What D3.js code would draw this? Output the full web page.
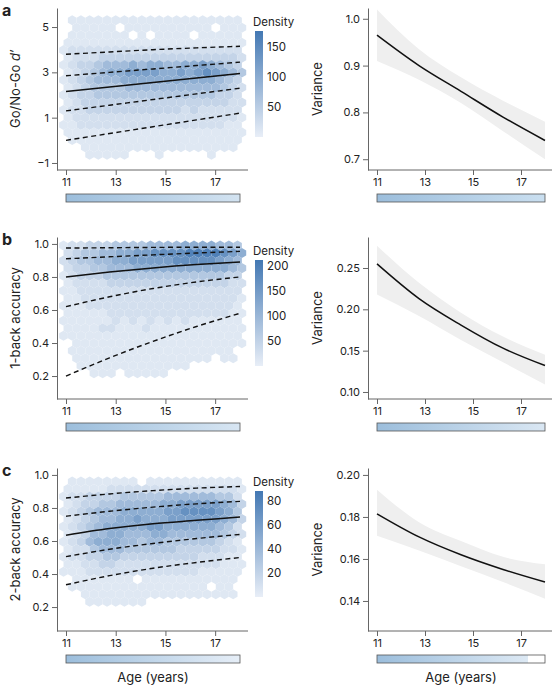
<!DOCTYPE html>
<html>
<head>
<meta charset="utf-8">
<script src="https://cdn.jsdelivr.net/npm/d3@7"></script>
<style>
  body { margin: 0; background: #fff; }
  text { font-family: Inter, "Noto Sans", sans-serif; fill: #222; }
</style>
</head>
<body>
<div class="canvas"></div>
<script>
// ages at which the fitted curves are read
const ages = [11, 12.75, 14.5, 16.25, 18];
const ageTicks = [11, 13, 15, 17];

// hexbin density levels (0 = empty, 9 = max), rows top to bottom
const hexA = [
  "011111111111111111111","011111011111111110111","011111110101111011111",
  "111111111111111111111","122222222222222222222","122233333333333333332",
  "123345556566556676543","123456677776676787654","123455566666666666543",
  "123444455555555555432","123344444444444444332","123333333333333333322",
  "122333333333332322222","122222222222222222221","112222222222222222211",
  "111111111111111111111","011111111111111111111","001111111111111111110",
  "000111110001000001000"];
const hexB = [
  "122333444455556666554","234455667788889999876","234455667777788888765",
  "233445556666666666654","123334444444444444433","122223333333333333322",
  "112222222222222222222","112222222222222222221","111222222222222222221",
  "111112222222222222211","111111212121212111111","111122111211111111111",
  "111111111111111111111","011111111111111111111","011111111111111111110",
  "011111111111111110110","001111111111111000000","000111011111000000000"];
const hexC = [
  "011111111011111111111","111112222222222222221","122333344444555555442",
  "123344555556677777653","123455566666778888764","123455667666777777653",
  "123456666677666666542","123556655566555555432","123566655455444444321",
  "122455544444433333221","122334433333333322211","112233222222222222111",
  "111222222222222211111","011111110111111111110","011111111111111110110",
  "001111111111111111110","000111111100000000000"];

// quantile curves (dashed) and median (solid)
const quantA = [[3.8,3.9,4.0,4.08,4.15],[2.85,3.0,3.15,3.3,3.45],[1.3,1.55,1.8,2.05,2.3],[0.0,0.3,0.6,0.9,1.2]];
const medA = [2.15,2.35,2.55,2.75,2.95];
const quantB = [[0.975,0.977,0.979,0.98,0.98],[0.91,0.922,0.934,0.945,0.955],[0.62,0.68,0.73,0.77,0.80],[0.20,0.31,0.41,0.50,0.58]];
const medB = [0.80,0.83,0.855,0.875,0.89];
const quantC = [[0.86,0.885,0.905,0.92,0.93],[0.75,0.78,0.805,0.825,0.84],[0.505,0.55,0.585,0.615,0.64],[0.335,0.39,0.435,0.47,0.50]];
const medC = [0.635,0.675,0.705,0.725,0.745];

// variance fits with CI
const varA = [0.965,0.90,0.845,0.79,0.74];
const varLoA = [0.91,0.87,0.82,0.76,0.70];
const varHiA = [1.02,0.935,0.875,0.825,0.78];
const varB = [0.255,0.213,0.181,0.153,0.132];
const varLoB = [0.218,0.192,0.163,0.136,0.109];
const varHiB = [0.277,0.232,0.196,0.167,0.145];
const varC = [0.1815,0.1705,0.162,0.155,0.149];
const varLoC = [0.171,0.164,0.1565,0.149,0.141];
const varHiC = [0.193,0.1775,0.1685,0.161,0.1575];

const panels = [
  {letter: 'a', top: 8, bottom: 170, label: ['Go/No-Go ', "d′"], yDom: [-1.31, 5.84], yTicks: [-1, 1, 3, 5], fmt: d => d < 0 ? '−1' : d,
   hex: hexA, hexY0: 5.3, hexDy: 0.33, dMax: 177, dTicks: [50, 100, 150], quant: quantA, med: medA,
   vDom: [0.677, 1.023], vTicks: [0.7, 0.8, 0.9, 1.0], vFmt: d3.format('.1f'), v: varA, vLo: varLoA, vHi: varHiA,
   barL: ['#9cbedc', '#d3e3f1', 1], barR: ['#9cbedc', '#cadff0', 1]},
  {letter: 'b', top: 237, bottom: 399, label: ['1-back accuracy'], yDom: [0.061, 1.042], yTicks: [0.2, 0.4, 0.6, 0.8, 1.0], fmt: d3.format('.1f'),
   hex: hexB, hexY0: 0.99, hexDy: 0.0455, dMax: 212, dTicks: [50, 100, 150, 200], quant: quantB, med: medB,
   vDom: [0.0915, 0.2875], vTicks: [0.10, 0.15, 0.20, 0.25], vFmt: d3.format('.2f'), v: varB, vLo: varLoB, vHi: varHiB,
   barL: ['#9cbedc', '#d8e6f3', 1], barR: ['#9cbedc', '#dae7f3', 1]},
  {letter: 'c', top: 468, bottom: 631, label: ['2-back accuracy'], yDom: [0.055, 1.042], yTicks: [0.2, 0.4, 0.6, 0.8, 1.0], fmt: d3.format('.1f'),
   hex: hexC, hexY0: 0.96, hexDy: 0.0455, dMax: 88, dTicks: [20, 40, 60, 80], quant: quantC, med: medC,
   vDom: [0.1257, 0.2033], vTicks: [0.14, 0.16, 0.18, 0.20], vFmt: d3.format('.2f'), v: varC, vLo: varLoC, vHi: varHiC,
   barL: ['#9cbedc', '#e6eef7', 1], barR: ['#9cbedc', '#dde9f4', 0.9]}
];

const svg = d3.select('.canvas').append('svg').attr('width', 556).attr('height', 685);
const defs = svg.append('defs');

function styleAxis(g) {
  g.selectAll('path, line').attr('stroke', '#666').attr('stroke-width', 1);
  g.selectAll('text').attr('font-size', 11).attr('fill', '#222');
}

function ageBar(x, y, colors, id) {
  const grad = defs.append('linearGradient').attr('id', id);
  grad.append('stop').attr('offset', 0).attr('stop-color', colors[0]);
  grad.append('stop').attr('offset', colors[2]).attr('stop-color', colors[1]);
  if (colors[2] < 1) {
    grad.append('stop').attr('offset', colors[2]).attr('stop-color', '#fff');
    grad.append('stop').attr('offset', 1).attr('stop-color', '#fff');
  }
  svg.append('rect')
    .attr('x', x(11)).attr('y', y).attr('width', x(18) - x(11)).attr('height', 8)
    .attr('fill', `url(#${id})`).attr('stroke', '#555').attr('stroke-width', 0.8);
}

panels.forEach((p, pi) => {
  // ---------- left: hexbin density ----------
  const x = d3.scaleLinear().domain([11, 18]).range([66, 240]);
  const y = d3.scaleLinear().domain(p.yDom).range([p.bottom, p.top]);
  const color = d3.scaleLinear().domain([0, p.dMax]).range(['#e8eef7', '#4378b3']);
  const dx = 0.35;
  const r = (x(11 + dx) - x(11)) / Math.sqrt(3);
  const hexPath = d3.range(6).map(k => {
    const a = Math.PI / 3 * k + Math.PI / 6;
    return [r * Math.cos(a), r * Math.sin(a)];
  });
  const cells = [];
  p.hex.forEach((row, ri) => {
    row.split('').forEach((c, ci) => {
      const lvl = +c;
      if (lvl > 0) cells.push({age: 10.9 + ci * dx + (ri % 2 ? dx / 2 : 0), val: p.hexY0 - ri * p.hexDy, dens: Math.pow(lvl / 9, 1.3) * p.dMax * 0.92});
    });
  });
  svg.append('g').selectAll('path').data(cells).join('path')
    .attr('transform', d => `translate(${x(d.age)},${y(d.val)})`)
    .attr('d', 'M' + hexPath.join('L') + 'Z')
    .attr('fill', d => color(d.dens));

  const line = d3.line().x((d, i) => x(ages[i])).y(d => y(d)).curve(d3.curveMonotoneX);
  p.quant.forEach(q => {
    svg.append('path').attr('d', line(q)).attr('fill', 'none')
      .attr('stroke', '#111').attr('stroke-width', 1.4).attr('stroke-dasharray', '5,3.5');
  });
  svg.append('path').attr('d', line(p.med)).attr('fill', 'none').attr('stroke', '#111').attr('stroke-width', 1.5);

  const xAx = svg.append('g').attr('transform', `translate(0,${p.bottom})`)
    .call(d3.axisBottom(x).tickValues(ageTicks).tickFormat(d3.format('d')).tickSize(5).tickSizeOuter(0));
  xAx.select('.domain').attr('d', 'M57,0H248');
  styleAxis(xAx);
  const yAx = svg.append('g').attr('transform', 'translate(57,0)')
    .call(d3.axisLeft(y).tickValues(p.yTicks).tickFormat(p.fmt).tickSize(5).tickSizeOuter(0));
  styleAxis(yAx);

  const lab = svg.append('text').attr('transform', `translate(20,${(p.top + p.bottom) / 2}) rotate(-90)`)
    .attr('text-anchor', 'middle').attr('font-size', 13);
  lab.append('tspan').text(p.label[0]);
  if (p.label[1]) lab.append('tspan').attr('font-style', 'italic').text(p.label[1]);

  svg.append('text').attr('x', 2).attr('y', p.top + 8).attr('font-size', 16).attr('font-weight', 700).text(p.letter);

  // density legend
  const lTop = p.top + 23, lBot = p.top + 129;
  const ly = d3.scaleLinear().domain([0, p.dMax]).range([lBot, lTop]);
  const lg = defs.append('linearGradient').attr('id', 'dens' + pi).attr('x1', 0).attr('x2', 0).attr('y1', 1).attr('y2', 0);
  lg.append('stop').attr('offset', 0).attr('stop-color', color(0));
  lg.append('stop').attr('offset', 1).attr('stop-color', color(p.dMax));
  svg.append('rect').attr('x', 255).attr('y', lTop).attr('width', 8).attr('height', lBot - lTop).attr('fill', `url(#dens${pi})`);
  svg.append('text').attr('x', 253).attr('y', lTop - 5).attr('font-size', 11.5).text('Density');
  svg.append('g').selectAll('text').data(p.dTicks).join('text')
    .attr('x', 267).attr('y', d => ly(d) + 4).attr('font-size', 11.5).text(d => d);

  ageBar(x, p.bottom + 24, p.barL, 'ageL' + pi);

  // ---------- right: variance ----------
  const xr = d3.scaleLinear().domain([11, 18]).range([377, 545]);
  const yr = d3.scaleLinear().domain(p.vDom).range([p.bottom, p.top]);
  const area = d3.area().x((d, i) => xr(ages[i])).y0((d, i) => yr(p.vLo[i])).y1(d => yr(d)).curve(d3.curveMonotoneX);
  svg.append('path').attr('d', area(p.vHi)).attr('fill', '#efefef');
  const vline = d3.line().x((d, i) => xr(ages[i])).y(d => yr(d)).curve(d3.curveMonotoneX);
  svg.append('path').attr('d', vline(p.v)).attr('fill', 'none').attr('stroke', '#111').attr('stroke-width', 1.5);

  const xrAx = svg.append('g').attr('transform', `translate(0,${p.bottom})`)
    .call(d3.axisBottom(xr).tickValues(ageTicks).tickFormat(d3.format('d')).tickSize(5).tickSizeOuter(0));
  xrAx.select('.domain').attr('d', 'M368,0H552');
  styleAxis(xrAx);
  const yrAx = svg.append('g').attr('transform', 'translate(368,0)')
    .call(d3.axisLeft(yr).tickValues(p.vTicks).tickFormat(p.vFmt).tickSize(5).tickSizeOuter(0));
  styleAxis(yrAx);
  svg.append('text').attr('transform', `translate(322,${(p.top + p.bottom) / 2}) rotate(-90)`)
    .attr('text-anchor', 'middle').attr('font-size', 13).text('Variance');

  ageBar(xr, p.bottom + 24, p.barR, 'ageR' + pi);

  if (pi === 2) {
    svg.append('text').attr('x', (x(11) + x(18)) / 2).attr('y', 682).attr('text-anchor', 'middle').attr('font-size', 13).text('Age (years)');
    svg.append('text').attr('x', (xr(11) + xr(18)) / 2).attr('y', 682).attr('text-anchor', 'middle').attr('font-size', 13).text('Age (years)');
  }
});
</script>
</body>
</html>
